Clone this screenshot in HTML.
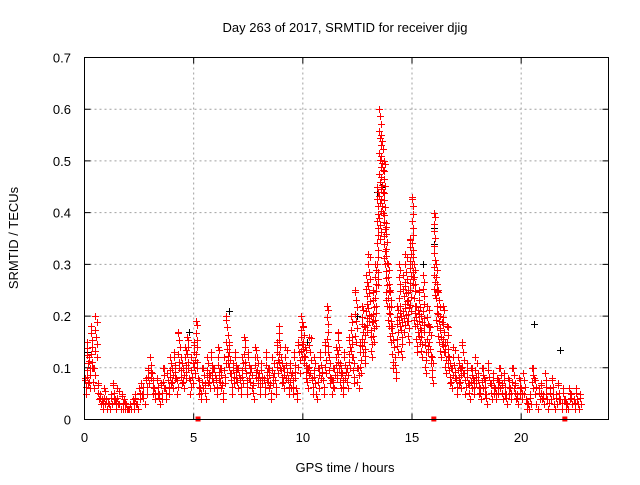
<!DOCTYPE html>
<html><head><meta charset="utf-8"><style>
body{margin:0;background:#fff;font-family:"Liberation Sans",sans-serif;}
svg text{font-family:"Liberation Sans",sans-serif;font-size:13px;fill:#000}
</style></head><body>
<svg id="chart" width="640" height="480" xmlns="http://www.w3.org/2000/svg">
<rect width="640" height="480" fill="#fff"/>
<text x="345" y="32" text-anchor="middle">Day 263 of 2017, SRMTID for receiver djig</text>
<text x="345" y="472" text-anchor="middle">GPS time / hours</text>
<text transform="translate(18,238) rotate(-90)" text-anchor="middle">SRMTID / TECUs</text>
<g id="grid"></g>
<g id="axes"></g>
<g id="marks"></g>
<rect x="84.5" y="57.5" width="524" height="362" fill="none" stroke="#000"/>
</svg>
<script>
const xTicks=[0,5,10,15,20];
const yTicks=[0,0.1,0.2,0.3,0.4,0.5,0.6,0.7];
const yTickLabels=["0","0.1","0.2","0.3","0.4","0.5","0.6","0.7"];
const tStart=0, tStep=0.1;
const redUpper=[0.08,0.15,0.12,0.18,0.1,0.2,0.07,0.05,0.04,0.06,
0.04,0.03,0.05,0.07,0.04,0.06,0.03,0.05,0.04,0.03,
0.02,0.03,0.04,0.05,0.03,0.06,0.07,0.05,0.08,0.1,
0.12,0.09,0.06,0.08,0.05,0.07,0.1,0.06,0.09,0.12,
0.1,0.13,0.08,0.17,0.12,0.1,0.14,0.16,0.08,0.12,
0.15,0.19,0.08,0.06,0.1,0.07,0.12,0.09,0.13,0.1,
0.08,0.14,0.1,0.07,0.12,0.2,0.15,0.09,0.11,0.13,
0.1,0.08,0.12,0.16,0.09,0.13,0.1,0.07,0.14,0.12,
0.09,0.11,0.08,0.13,0.1,0.07,0.12,0.09,0.15,0.18,
0.12,0.1,0.14,0.08,0.11,0.09,0.13,0.06,0.15,0.2,
0.18,0.14,0.1,0.16,0.08,0.12,0.05,0.1,0.13,0.09,
0.15,0.22,0.12,0.08,0.1,0.14,0.17,0.11,0.09,0.13,
0.1,0.16,0.2,0.12,0.25,0.1,0.15,0.22,0.18,0.28,
0.32,0.2,0.25,0.3,0.45,0.6,0.55,0.5,0.38,0.3,
0.25,0.18,0.12,0.22,0.3,0.2,0.28,0.32,0.25,0.35,
0.43,0.3,0.22,0.25,0.2,0.28,0.15,0.22,0.18,0.12,
0.4,0.3,0.25,0.2,0.22,0.15,0.18,0.12,0.1,0.14,
0.08,0.12,0.1,0.15,0.09,0.11,0.07,0.1,0.08,0.12,
0.09,0.06,0.1,0.08,0.05,0.11,0.07,0.09,0.06,0.08,
0.1,0.07,0.09,0.05,0.08,0.06,0.1,0.07,0.05,0.08,
0.06,0.09,0.04,0.03,0.05,0.1,0.08,0.03,0.06,0.07,
0.05,0.09,0.04,0.06,0.08,0.03,0.05,0.07,0.04,0.06,
0.04,0.03,0.06,0.05,0.04,0.06,0.03,0.05];
const redLower=[0.05,0.07,0.06,0.1,0.06,0.12,0.04,0.03,0.02,0.03,
0.02,0.02,0.03,0.04,0.02,0.03,0.02,0.02,0.02,0.02,
0.02,0.02,0.02,0.03,0.02,0.04,0.05,0.03,0.05,0.07,
0.08,0.05,0.04,0.05,0.03,0.04,0.06,0.04,0.05,0.07,
0.06,0.08,0.05,0.1,0.07,0.06,0.08,0.1,0.05,0.07,
0.09,0.1,0.05,0.04,0.06,0.04,0.07,0.06,0.08,0.06,
0.05,0.08,0.06,0.04,0.07,0.11,0.09,0.05,0.07,0.08,
0.06,0.05,0.07,0.1,0.05,0.08,0.06,0.04,0.08,0.07,
0.05,0.07,0.05,0.08,0.06,0.04,0.07,0.05,0.09,0.1,
0.07,0.06,0.08,0.05,0.06,0.05,0.08,0.04,0.09,0.12,
0.11,0.08,0.06,0.09,0.05,0.07,0.04,0.06,0.08,0.05,
0.09,0.13,0.07,0.05,0.06,0.08,0.1,0.06,0.05,0.08,
0.06,0.1,0.12,0.07,0.15,0.06,0.09,0.13,0.11,0.17,
0.19,0.12,0.15,0.18,0.26,0.35,0.4,0.3,0.22,0.18,
0.15,0.1,0.08,0.13,0.18,0.12,0.17,0.19,0.15,0.21,
0.26,0.18,0.13,0.15,0.12,0.17,0.09,0.13,0.11,0.07,
0.24,0.18,0.15,0.12,0.13,0.09,0.11,0.07,0.06,0.08,
0.05,0.07,0.06,0.09,0.05,0.07,0.04,0.06,0.05,0.07,
0.05,0.04,0.06,0.05,0.03,0.07,0.04,0.05,0.04,0.05,
0.06,0.04,0.05,0.03,0.05,0.04,0.06,0.04,0.03,0.05,
0.04,0.05,0.02,0.02,0.03,0.06,0.05,0.02,0.04,0.04,
0.03,0.05,0.02,0.04,0.05,0.02,0.03,0.04,0.02,0.04,
0.02,0.02,0.04,0.03,0.02,0.04,0.02,0.03];
const blackTimes=[0.1,4.8,6.6,10.2,12.5,13.4,13.6,15.5,16.0,16.0,20.6,21.8];
const blackValues=[0.13,0.17,0.21,0.15,0.2,0.44,0.45,0.3,0.37,0.34,0.185,0.135];
const gapTimes=[5.2,16.0,22.0];

const NS="http://www.w3.org/2000/svg";
const X0=84.5,X1=608.5,Y0=419.5,Y1=57.5,XMAX=24,YMAX=0.7;
function xs(t){return X0+(X1-X0)*t/XMAX;}
function ys(v){return Y0-(Y0-Y1)*v/YMAX;}
const grid=document.getElementById('grid'),axes=document.getElementById('axes'),marks=document.getElementById('marks');
function mk(tag,attrs,parent){const e=document.createElementNS(NS,tag);for(const k in attrs)e.setAttribute(k,attrs[k]);parent.appendChild(e);return e;}
xTicks.forEach((t,i)=>{
  const x=xs(t);
  if(t>0){const g=mk('line',{x1:x,x2:x,y1:Y1,y2:Y0,stroke:'#a0a0a0','stroke-dasharray':'2,3'},grid);
  
  }
  const tk=mk('path',{d:`M${x},${Y0}v-6M${x},${Y1}v6`,stroke:'#000'},axes);
  
  
  const tx=mk('text',{x:x,y:442,'text-anchor':'middle'},axes);tx.textContent=String(t);
  
  
});
yTicks.forEach((v,i)=>{
  const y=ys(v);
  if(v>0&&v<YMAX){const g=mk('line',{x1:X0,x2:X1,y1:y,y2:y,stroke:'#a0a0a0','stroke-dasharray':'2,3'},grid);
  
  }
  const tk=mk('path',{d:`M${X0},${y}h6M${X1},${y}h-6`,stroke:'#000'},axes);
  
  
  const tx=mk('text',{x:71,y:y+5,'text-anchor':'end'},axes);tx.textContent=yTickLabels[i];
  
  
});
function plusD(t,v){
  const x=Math.round(xs(t))+0.5,y=Math.round(ys(v))+0.5;
  return `M${x-3.5},${y}h7M${x},${y-3.5}v7`;
}
// black points (drawn underneath)
let bd='';
blackTimes.forEach((t,i)=>{bd+=plusD(t,blackValues[i]);});
const bp=mk('path',{d:bd,stroke:'#000','stroke-width':1,fill:'none'},marks);


// red series: envelope points plus fill between lower and upper per time bin
let rd='';
redUpper.forEach((u,i)=>{
  const t=tStart+i*tStep, l=redLower[i];
  rd+=plusD(t,u);
  rd+=plusD(t+0.05,l);
  for(let v=l+0.012; v<u; v+=0.014){ rd+=plusD(t+((Math.round(v*1000))%3)*0.03,v); }
});
const rp=mk('path',{d:rd,stroke:'#ff0000','stroke-width':1,fill:'none'},marks);


gapTimes.forEach(t=>{
  const r=mk('rect',{x:xs(t)-2.5,y:Y0-3,width:5,height:5,fill:'#ff0000'},marks);
  
  
});
</script>
</body></html>
